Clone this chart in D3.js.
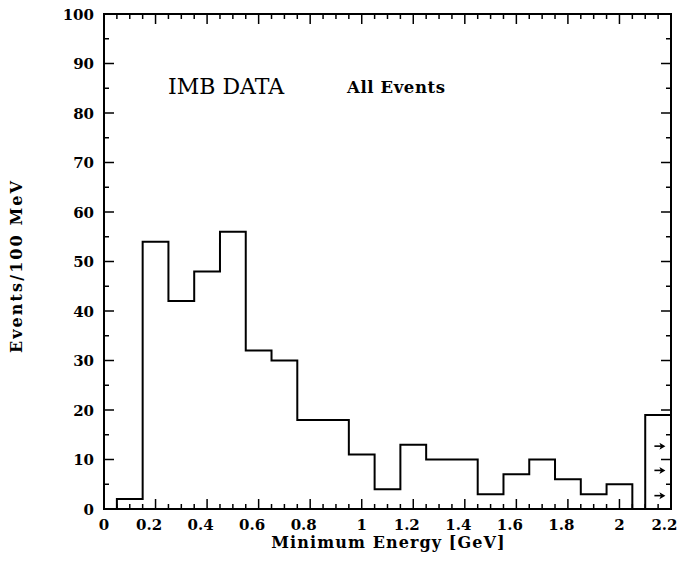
<!DOCTYPE html>
<html>
<head>
<meta charset="utf-8">
<script src="https://cdn.jsdelivr.net/npm/d3@7"></script>
<style>
  body { margin: 0; background: #fff; }
  svg { display: block; }
  text { font-family: "DejaVu Serif", serif; fill: #000; }
</style>
</head>
<body>
<svg id="chart" width="679" height="564"></svg>
<script>
// histogram bin edges (GeV) and counts per bin
const binEdges = [0.05, 0.15, 0.25, 0.35, 0.45, 0.55, 0.65, 0.75, 0.95, 1.05, 1.15,
                  1.25, 1.45, 1.55, 1.65, 1.75, 1.85, 1.95, 2.05, 2.1, 2.2]
const counts = [2, 54, 42, 48, 56, 32, 30, 18, 11, 4, 13, 10, 3, 7, 10, 6, 3, 5, 0, 19]

// overflow arrows in the last bin
const arrowX = 2.155
const arrowYs = [12.7, 7.8, 2.7]

const xTicks = [0, 0.2, 0.4, 0.6, 0.8, 1, 1.2, 1.4, 1.6, 1.8, 2, 2.2]
const yTicks = [0, 10, 20, 30, 40, 50, 60, 70, 80, 90, 100]

const MARGINS = { top: 14, left: 104, bottom: 55, right: 8 }
const W = 679, H = 564

const svg = d3.select('#chart')

const x = d3.scaleLinear().domain([0, 2.2]).range([MARGINS.left, W - MARGINS.right])
const y = d3.scaleLinear().domain([0, 100]).range([H - MARGINS.bottom, MARGINS.top])

const x0 = x.range()[0], x1 = x.range()[1]
const y0 = y.range()[0], y1 = y.range()[1]

// minor ticks every 0.05 GeV / every 5 events
const xMinor = d3.range(0, 2.2001, 0.05).map(v => +v.toFixed(2))
const yMinor = d3.range(0, 100.01, 5)

const isMajorX = v => Math.abs(v * 5 - Math.round(v * 5)) < 1e-6
const isMajorY = v => v % 10 === 0

const ticks = svg.append('g').attr('stroke', '#000').attr('stroke-width', 1.5)

// bottom + top ticks (inward)
xMinor.forEach(v => {
  let len = isMajorX(v) ? 10 : 5
  ticks.append('line').attr('x1', x(v)).attr('x2', x(v)).attr('y1', y0).attr('y2', y0 - len)
  ticks.append('line').attr('x1', x(v)).attr('x2', x(v)).attr('y1', y1).attr('y2', y1 + len)
})
// left + right ticks (inward)
yMinor.forEach(v => {
  let len = isMajorY(v) ? 10 : 5
  ticks.append('line').attr('y1', y(v)).attr('y2', y(v)).attr('x1', x0).attr('x2', x0 + len)
  ticks.append('line').attr('y1', y(v)).attr('y2', y(v)).attr('x1', x1).attr('x2', x1 - len)
})

// histogram outline
const pts = [[binEdges[0], 0]]
counts.forEach((c, i) => pts.push([binEdges[i], c]))
pts.push([binEdges[binEdges.length - 1], counts[counts.length - 1]])

svg.append('path')
  .attr('d', d3.line().x(d => x(d[0])).y(d => y(d[1])).curve(d3.curveStepAfter)(pts))
  .attr('fill', 'none')
  .attr('stroke', '#000')
  .attr('stroke-width', 2)

// frame
svg.append('rect')
  .attr('x', x0).attr('y', y1)
  .attr('width', x1 - x0).attr('height', y0 - y1)
  .attr('fill', 'none').attr('stroke', '#000').attr('stroke-width', 2)

// tick labels (decimal labels sit a little left of their tick, as in the original)
svg.append('g').attr('font-size', 15).attr('font-weight', 'bold').attr('text-anchor', 'middle')
  .selectAll('text').data(xTicks).join('text')
  .attr('x', d => x(d)).attr('y', y0 + 21)
  .attr('dx', d => Number.isInteger(d) ? 0 : -6.5)
  .text(d => d3.format('~g')(d))

svg.append('g').attr('font-size', 15).attr('font-weight', 'bold').attr('text-anchor', 'end')
  .selectAll('text').data(yTicks).join('text')
  .attr('x', x0 - 10).attr('y', d => y(d) + 5.5)
  .text(d => d)

// axis titles
svg.append('text')
  .attr('x', (x0 + x1) / 2 + 1).attr('y', 548)
  .attr('text-anchor', 'middle').attr('font-size', 16).attr('font-weight', 'bold')
  .attr('letter-spacing', 1.1)
  .text('Minimum Energy [GeV]')

svg.append('text')
  .attr('transform', 'translate(22,266) rotate(-90)')
  .attr('text-anchor', 'middle').attr('font-size', 16).attr('font-weight', 'bold')
  .attr('letter-spacing', 2.1)
  .text('Events/100 MeV')

// annotations
svg.append('text')
  .attr('x', 168).attr('y', 94)
  .attr('font-family', '"Liberation Serif", serif').attr('font-size', 22)
  .text('IMB DATA')

svg.append('text')
  .attr('x', 347).attr('y', 93)
  .attr('font-size', 16.5).attr('font-weight', 'bold')
  .attr('letter-spacing', 0.6)
  .text('All Events')

// overflow arrows
const arrows = svg.append('g')
arrowYs.forEach(v => {
  let cx = x(arrowX), cy = y(v)
  arrows.append('line')
    .attr('x1', cx - 5).attr('x2', cx + 2).attr('y1', cy).attr('y2', cy)
    .attr('stroke', '#000').attr('stroke-width', 1.6)
  arrows.append('path')
    .attr('d', `M${cx + 6},${cy} L${cx},${cy - 3.5} L${cx + 1.5},${cy} L${cx},${cy + 3.5} Z`)
    .attr('fill', '#000')
})
</script>
</body>
</html>
